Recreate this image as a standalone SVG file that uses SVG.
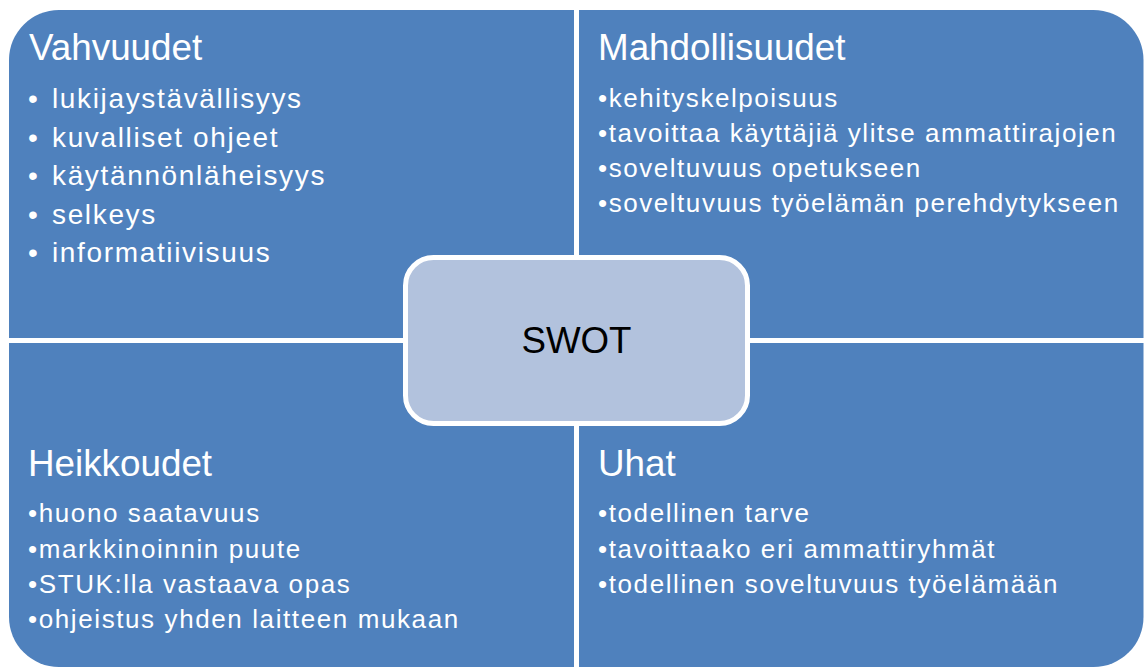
<svg xmlns="http://www.w3.org/2000/svg" width="1144" height="667" viewBox="0 0 1144 667">
<style>
.q{fill:#4F81BD}
.t{font-family:"Liberation Sans",Arial,sans-serif;fill:#FFFFFF}
.title{font-size:36.8px}
.b1{font-size:28px;letter-spacing:1.65px}
.b2{font-size:26px;letter-spacing:1.55px}
.b3{font-size:26px;letter-spacing:1.6px}
.center{fill:#B2C2DD;stroke:#FFFFFF;stroke-width:5}
.ct{font-family:"Liberation Sans",Arial,sans-serif;font-size:36.7px;fill:#000000}
</style>
<rect width="1144" height="667" fill="#FFFFFF"/>
<g id="vahvuudet">
<path class="q" d="M9,60 A50,50 0 0 1 59,10 L574,10 L574,338 L9,338 Z"/>
<text class="t title" x="29" y="60">Vahvuudet</text>
<g class="t b1">
<text x="28" y="108">•</text><text x="52" y="108">lukijaystävällisyys</text>
<text x="28" y="146.5">•</text><text x="52" y="146.5">kuvalliset ohjeet</text>
<text x="28" y="185">•</text><text x="52" y="185">käytännönläheisyys</text>
<text x="28" y="223.5">•</text><text x="52" y="223.5">selkeys</text>
<text x="28" y="262">•</text><text x="52" y="262">informatiivisuus</text>
</g>
</g>
<g id="mahdollisuudet">
<path class="q" d="M579,10 L1093.5,10 A50,50 0 0 1 1143.5,60 L1143.5,338 L579,338 Z"/>
<text class="t title" x="598" y="60">Mahdollisuudet</text>
<g class="t b2">
<text x="598" y="106.7">•kehityskelpoisuus</text>
<text x="598" y="142">•tavoittaa käyttäjiä ylitse ammattirajojen</text>
<text x="598" y="176.7">•soveltuvuus opetukseen</text>
<text x="598" y="211.7">•soveltuvuus työelämän perehdytykseen</text>
</g>
</g>
<g id="heikkoudet">
<path class="q" d="M9,343 L574,343 L574,667 L59,667 A50,50 0 0 1 9,617 Z"/>
<text class="t title" x="28" y="476">Heikkoudet</text>
<g class="t b3">
<text x="28" y="521.7">•huono saatavuus</text>
<text x="28" y="558.3">•markkinoinnin puute</text>
<text x="28" y="593.3">•STUK:lla vastaava opas</text>
<text x="28" y="628.3">•ohjeistus yhden laitteen mukaan</text>
</g>
</g>
<g id="uhat">
<path class="q" d="M579,343 L1143.5,343 L1143.5,617 A50,50 0 0 1 1093.5,667 L579,667 Z"/>
<text class="t title" x="598" y="476">Uhat</text>
<g class="t b3">
<text x="598" y="521.7">•todellinen tarve</text>
<text x="598" y="558.3">•tavoittaako eri ammattiryhmät</text>
<text x="598" y="593.3">•todellinen soveltuvuus työelämään</text>
</g>
</g>
<g id="swot">
<rect class="center" x="405.5" y="257.5" width="342" height="166" rx="28" ry="28"/>
<text class="ct" x="576.5" y="353" text-anchor="middle">SWOT</text>
</g>
<g id="connectors"/>
</svg>
